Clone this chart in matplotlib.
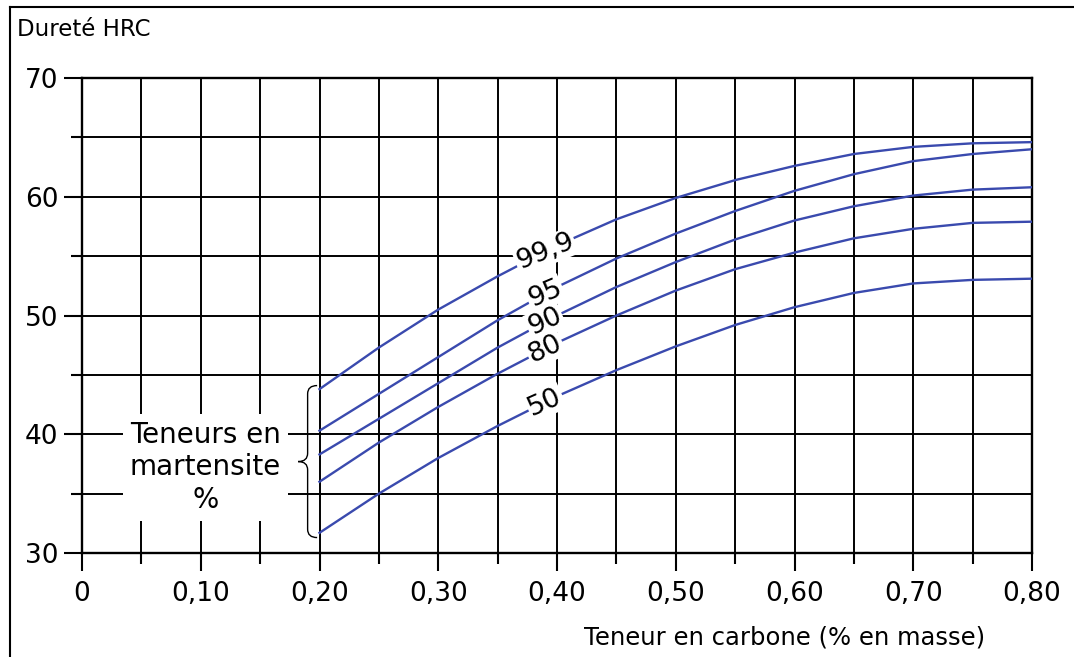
import numpy as np
import matplotlib.pyplot as plt
from matplotlib.path import Path
from matplotlib.patches import PathPatch
from matplotlib.lines import Line2D
from matplotlib.ticker import MultipleLocator, FuncFormatter

plt.rcParams['font.family'] = ['DejaVu Sans']

# carbon content (% mass) and hardness HRC
carbon = [0.20, 0.25, 0.30, 0.35, 0.40, 0.45, 0.50, 0.55, 0.60, 0.65, 0.70, 0.75, 0.80]
hrc_999 = [43.8, 47.3, 50.5, 53.3, 55.9, 58.1, 59.9, 61.4, 62.6, 63.6, 64.2, 64.5, 64.6]
hrc_95 = [40.3, 43.4, 46.5, 49.6, 52.4, 54.8, 56.9, 58.8, 60.5, 61.9, 63.0, 63.6, 64.0]
hrc_90 = [38.3, 41.3, 44.3, 47.3, 50.0, 52.4, 54.5, 56.4, 58.0, 59.2, 60.1, 60.6, 60.8]
hrc_80 = [36.0, 39.3, 42.3, 45.1, 47.7, 50.0, 52.1, 53.9, 55.3, 56.5, 57.3, 57.8, 57.9]
hrc_50 = [31.7, 35.0, 38.0, 40.7, 43.2, 45.4, 47.4, 49.2, 50.7, 51.9, 52.7, 53.0, 53.1]
curves = [hrc_999, hrc_95, hrc_90, hrc_80, hrc_50]
curve_labels = ['99,9', '95', '90', '80', '50']
label_angles = [22, 23, 24, 25, 24]

xticks = [0, 0.10, 0.20, 0.30, 0.40, 0.50, 0.60, 0.70, 0.80]
yticks = [30, 40, 50, 60, 70]

fig = plt.figure(figsize=(10.74, 6.57), dpi=100)
ax = fig.add_axes([82 / 1074, 1 - 553 / 657, 950 / 1074, 475 / 657])

blue = '#3a4aae'
for vals in curves:
    ax.plot(carbon, vals, color=blue, lw=1.7, zorder=3)

# curve labels sit on the curves, white box cuts line and grid
for vals, lab, ang in zip(curves, curve_labels, label_angles):
    ax.text(0.39, np.interp(0.39, carbon, vals), lab, fontsize=19.5, rotation=ang,
            ha='center', va='center', zorder=4, rotation_mode='anchor',
            bbox=dict(facecolor='white', edgecolor='none', pad=1.0))

# brace grouping the curve starts
starts = [v[0] for v in curves]
top = max(starts) + 0.3
bot = min(starts) - 0.4
mid = (top + bot) / 2
xr, xs, xl, d = 0.198, 0.190, 0.182, 0.7
verts = [(xr, top), (xs, top), (xs, top - d),
         (xs, mid + d), (xs, mid), (xl, mid),
         (xs, mid), (xs, mid - d),
         (xs, bot + d), (xs, bot), (xr, bot)]
codes = [Path.MOVETO, Path.CURVE3, Path.CURVE3,
         Path.LINETO, Path.CURVE3, Path.CURVE3,
         Path.CURVE3, Path.CURVE3,
         Path.LINETO, Path.CURVE3, Path.CURVE3]
ax.add_patch(PathPatch(Path(verts, codes), fill=False, lw=1.0, color='black', zorder=4))

ax.text(0.104, 37.2, 'Teneurs en\nmartensite\n%', fontsize=20, ha='center', va='center',
        linespacing=1.2, zorder=4,
        bbox=dict(facecolor='white', edgecolor='none', pad=5))

ax.set_xlim(0, 0.80)
ax.set_ylim(30, 70)
ax.set_xticks(xticks)
ax.set_yticks(yticks)
ax.xaxis.set_minor_locator(MultipleLocator(0.05))
ax.yaxis.set_minor_locator(MultipleLocator(5))
ax.xaxis.set_major_formatter(FuncFormatter(lambda v, p: '0' if v == 0 else f'{v:.2f}'.replace('.', ',')))
ax.tick_params(which='major', length=13, width=1.5, labelsize=19, direction='out')
ax.tick_params(which='minor', length=8, width=1.5, direction='out')
ax.tick_params(axis='x', which='major', pad=7)
ax.tick_params(axis='y', which='major', pad=4)
ax.grid(which='both', color='black', lw=1.4, zorder=1)
ax.set_axisbelow(True)
for s in ax.spines.values():
    s.set_linewidth(1.7)

fig.text(17 / 1074, 1 - 30 / 657, 'Dureté HRC', fontsize=16.5, ha='left', va='center')
fig.text(985 / 1074, 1 - 637 / 657, 'Teneur en carbone (% en masse)', fontsize=17.5,
         ha='right', va='center')

# frame round the picture
fig.add_artist(Line2D([10 / 1074, 10 / 1074], [0, 1 - 7 / 657], color='black', lw=1.5))
fig.add_artist(Line2D([10 / 1074, 1], [1 - 7 / 657, 1 - 7 / 657], color='black', lw=1.5))

fig.savefig('out.png', dpi=100)
